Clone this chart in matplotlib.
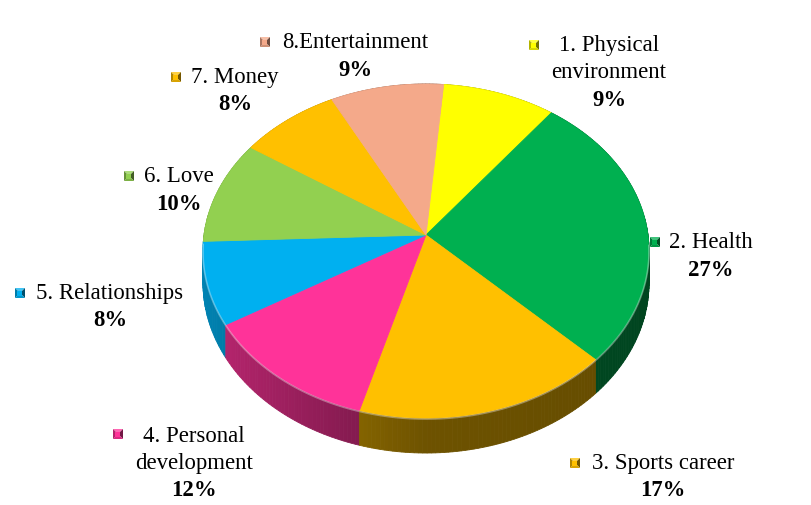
import numpy as np
import matplotlib
matplotlib.use("Agg")
import matplotlib.pyplot as plt
from matplotlib.patches import Polygon
from matplotlib.colors import to_rgb

# ---------------- data ----------------
categories = ["1. Physical\nenvironment", "2. Health", "3. Sports career",
              "4. Personal\ndevelopment", "5. Relationships", "6. Love",
              "7. Money", "8.Entertainment"]
values = [9, 27, 17, 12, 8, 10, 8, 9]
colors = ["#FFFF00", "#00B050", "#FFC000", "#FF3399",
          "#00B0F0", "#92D050", "#FFC000", "#F4A98A"]

# ---------------- layout (pixels) ----------------
W, H = 812, 505
CX, CY = 426, 235          # apex of pie on screen
FX, GY = 222, 165.5        # horizontal / vertical radius scale
K = 0.096                  # perspective strength
DEPTH = 31.6               # thickness of the pie
START = 5.0                # first slice angle (deg, clockwise from top)

# label layout: (marker_x, marker_y, text_center_x, first_line_y)
label_layout = [
    (534, 45, 609, 46),
    (655, 242, 711, 243),
    (575, 463, 663, 464),
    (118, 434, 194, 436),
    (20, 293, 110, 294),
    (129, 176, 179, 177),
    (176, 77, 235, 78),
    (265, 42, 355, 43),
]
LINE = 27
FONT = "Liberation Serif"
FS = 16.4


def proj(theta_deg, r=1.0, drop=0.0):
    t = np.radians(theta_deg)
    u = r * np.sin(t)
    v = -r * np.cos(t)
    den = 1 - K * v
    return CX + FX * u / den, CY + (GY * v + drop) / den


def shade(c, f):
    r, g, b = to_rgb(c)
    return (r * f, g * f, b * f)


def lighten(c, f):
    r, g, b = to_rgb(c)
    return (r + (1 - r) * f, g + (1 - g) * f, b + (1 - b) * f)


fig = plt.figure(figsize=(W / 100, H / 100), dpi=100)
ax = fig.add_axes([0, 0, 1, 1])
ax.set_xlim(0, W)
ax.set_ylim(H, 0)
ax.axis("off")

total = float(sum(values))
bounds = START + 360.0 * np.concatenate([[0], np.cumsum(values)]) / total

# ---- sides (drawn back to front) ----
segs = []
for i, c in enumerate(colors):
    a0, a1 = bounds[i], bounds[i + 1]
    n = max(int((a1 - a0) / 1.0), 2)
    ts = np.linspace(a0, a1, n + 1)
    for j in range(n):
        ta, tb = ts[j], ts[j + 1]
        tm = 0.5 * (ta + tb)
        u = np.sin(np.radians(tm))
        v = -np.cos(np.radians(tm))
        f = 0.43 - 0.32 * min(u, 0) - 0.04 * max(u, 0)
        xa, ya = proj(ta)
        xb, yb = proj(tb)
        xa2, ya2 = proj(ta, drop=DEPTH)
        xb2, yb2 = proj(tb, drop=DEPTH)
        segs.append((v, [(xa, ya), (xb, yb), (xb2, yb2), (xa2, ya2)], shade(c, f)))
segs.sort(key=lambda s: s[0])
for v, pts, col in segs:
    ax.add_patch(Polygon(pts, closed=True, facecolor=col, edgecolor=col,
                         linewidth=0.6, zorder=1))

# ---- top faces ----
for i, c in enumerate(colors):
    a0, a1 = bounds[i], bounds[i + 1]
    ts = np.linspace(a0, a1, 120)
    xs, ys = proj(ts)
    pts = [(CX, CY)] + list(zip(xs, ys))
    ax.add_patch(Polygon(pts, closed=True, facecolor=c, edgecolor=c,
                         linewidth=0.6, zorder=2))

# rim highlight on the front edge
ts = np.linspace(START + 60, START + 300, 400)
xs, ys = proj(ts)
vv = -np.cos(np.radians(ts))
mask = vv > 0.05
ax.plot(xs[mask], ys[mask] + 1.0, color="white", alpha=0.35, lw=1.2, zorder=3)

# ---- labels ----
for i, (name, val, c) in enumerate(zip(categories, values, colors)):
    mx, my, tx, ty = label_layout[i]
    s = 5.0
    ctr = (mx, my)
    tl, tr, br, bl = (mx - s, my - s), (mx + s, my - s), (mx + s, my + s), (mx - s, my + s)
    ax.add_patch(Polygon([tl, tr, ctr], facecolor=lighten(c, 0.25), edgecolor="none", zorder=5))
    ax.add_patch(Polygon([tr, br, ctr], facecolor=shade(c, 0.45), edgecolor="none", zorder=5))
    ax.add_patch(Polygon([br, bl, ctr], facecolor=shade(c, 0.85), edgecolor="none", zorder=5))
    ax.add_patch(Polygon([bl, tl, ctr], facecolor=shade(c, 0.7), edgecolor="none", zorder=5))
    ax.add_patch(Polygon([(mx - 2.5, my - 2.5), (mx + 2.5, my - 2.5),
                          (mx + 2.5, my + 2.5), (mx - 2.5, my + 2.5)],
                         facecolor=c, edgecolor="none", zorder=6))
    lines = name.split("\n")
    for j, ln in enumerate(lines):
        ax.text(tx, ty + j * LINE, ln, ha="center", va="center",
                fontfamily=FONT, fontsize=FS, color="black", zorder=7)
    ax.text(tx, ty + len(lines) * LINE, f"{val}%", ha="center", va="center",
            fontfamily=FONT, fontsize=FS, fontweight="bold", color="black", zorder=7)

fig.savefig("out.png", dpi=100, facecolor="white")
